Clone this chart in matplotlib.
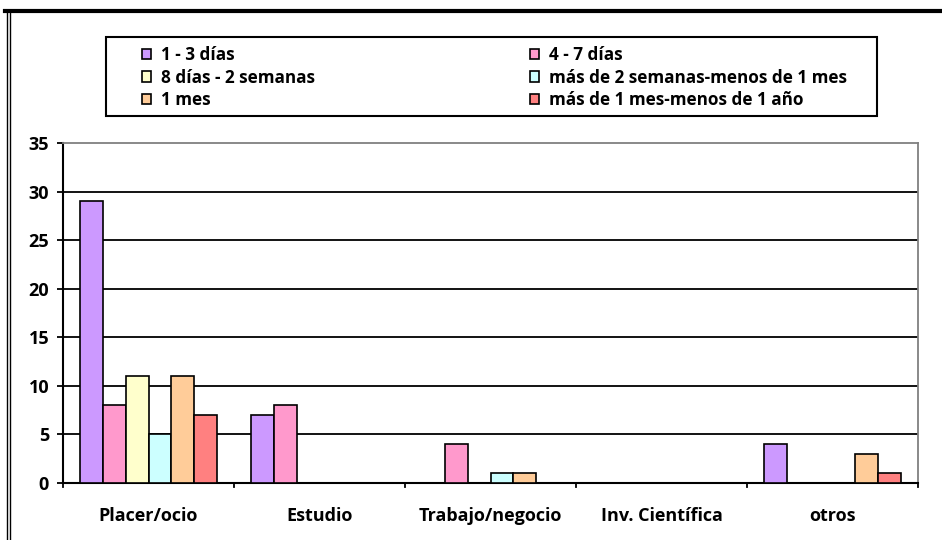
import numpy as np
import matplotlib.pyplot as plt
from matplotlib.patches import Rectangle
from matplotlib.lines import Line2D

# ---------- Data ----------
categories = ["Placer/ocio", "Estudio", "Trabajo/negocio", "Inv. Científica", "otros"]
series_names = ["1 - 3 días", "4 - 7 días", "8 días - 2 semanas",
                "más de 2 semanas-menos de 1 mes", "1 mes", "más de 1 mes-menos de 1 año"]
dias_1_3 = [29, 7, 0, 0, 4]
dias_4_7 = [8, 8, 4, 0, 0]
dias_8_2sem = [11, 0, 0, 0, 0]
sem2_mes1 = [5, 0, 1, 0, 0]
mes_1 = [11, 0, 1, 0, 3]
mes1_anio1 = [7, 0, 0, 0, 1]
colors = ["#CC99FF", "#FF99CC", "#FFFFCC", "#CCFFFF", "#FFCC99", "#FF8080"]

series = [dias_1_3, dias_4_7, dias_8_2sem, sem2_mes1, mes_1, mes1_anio1]

plt.rcParams['font.family'] = ['Open Sans', 'DejaVu Sans']
plt.rcParams['font.weight'] = 'bold'

W, H = 942, 540
fig = plt.figure(figsize=(W / 100, H / 100), dpi=100)
ax = fig.add_axes([63 / W, 1 - 483 / H, (918 - 63) / W, (483 - 143) / H])

x = np.arange(len(categories))
w = 0.134
for k, (vals, col) in enumerate(zip(series, colors)):
    offs = (k - 2.5) * w
    for xi, v in zip(x, vals):
        if v > 0:
            ax.bar(xi + offs, v, width=w, color=col, edgecolor="black", linewidth=1.2, zorder=3)

ax.set_xlim(-0.5, len(categories) - 0.5)
ax.set_ylim(0, 35)
ax.set_yticks(range(0, 36, 5))
ax.set_yticklabels([str(v) for v in range(0, 36, 5)], fontsize=13, fontweight='bold')
for yv in range(5, 35, 5):
    ax.axhline(yv, color="black", linewidth=1.3, zorder=1)

# category labels centred, ticks at boundaries
ax.set_xticks(x)
ax.set_xticklabels(categories, fontsize=13, fontweight='bold')
ax.tick_params(axis='x', length=0, pad=17)
for b in np.arange(-0.5, len(categories), 1.0):
    ax.add_line(Line2D([b, b], [0, -0.45], color="black", linewidth=1.3, clip_on=False))
ax.tick_params(axis='y', length=4, width=1.3, direction='out', pad=6)

for s in ["top", "right"]:
    ax.spines[s].set_color("#808080")
    ax.spines[s].set_linewidth(1.3)
for s in ["left", "bottom"]:
    ax.spines[s].set_color("black")
    ax.spines[s].set_linewidth(1.5)

# ---------- Legend ----------
fig.add_artist(Rectangle((106 / W, 1 - 116 / H), (877 - 106) / W, (116 - 37) / H,
                         facecolor="white", edgecolor="black", linewidth=1.5,
                         transform=fig.transFigure, zorder=1))
handles = [Rectangle((0, 0), 1, 1, facecolor=c, edgecolor="black", linewidth=1.2) for c in colors]
order = [0, 2, 4, 1, 3, 5]
leg = fig.legend([handles[i] for i in order], [series_names[i] for i in order],
                 loc="upper left", bbox_to_anchor=(142 / W, 1 - 46 / H),
                 ncol=2, frameon=False, fontsize=12.3,
                 handlelength=0.55, handleheight=0.55, handletextpad=0.55,
                 labelspacing=0.27, borderpad=0, borderaxespad=0, columnspacing=12.6)
leg.set_zorder(2)
for t in leg.get_texts():
    t.set_fontweight('bold')

# ---------- Outer border ----------
fig.add_artist(Line2D([5 / W, 1.0], [1 - 11 / H, 1 - 11 / H], color="black", linewidth=3,
                      transform=fig.transFigure))
fig.add_artist(Line2D([7 / W, 7 / W], [0, 1 - 11 / H], color="black", linewidth=1,
                      transform=fig.transFigure))
fig.add_artist(Line2D([10 / W, 10 / W], [0, 1 - 11 / H], color="black", linewidth=1,
                      transform=fig.transFigure))

fig.savefig("out.png", dpi=100)
